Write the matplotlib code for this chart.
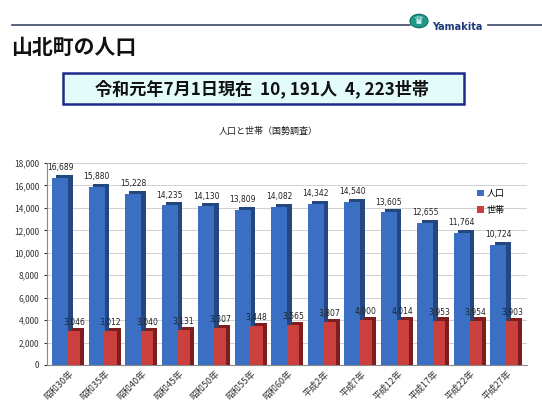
import numpy as np
import matplotlib
matplotlib.use("Agg")
import matplotlib.pyplot as plt
from matplotlib.patches import Rectangle, Circle
from matplotlib.lines import Line2D
from matplotlib.ticker import FuncFormatter

plt.rcParams['font.family'] = ['Noto Sans CJK JP', 'DejaVu Sans']

# データ（国勢調査）
years = ["昭和30年", "昭和35年", "昭和40年", "昭和45年", "昭和50年", "昭和55年",
         "昭和60年", "平成2年", "平成7年", "平成12年", "平成17年", "平成22年", "平成27年"]
population = [16689, 15880, 15228, 14235, 14130, 13809, 14082,
              14342, 14540, 13605, 12655, 11764, 10724]
households = [3046, 3012, 3040, 3131, 3307, 3448, 3565,
              3807, 4000, 4014, 3953, 3954, 3903]

W, H = 542, 407
fig = plt.figure(figsize=(W / 100, H / 100), dpi=100)
fig.patch.set_facecolor("white")

# ヘッダー部分
fig.add_artist(Line2D([12 / W, 410 / W], [1 - 25 / H, 1 - 25 / H], color="#3a4a6a", lw=1.2))
fig.add_artist(Line2D([488 / W, 1.0], [1 - 25 / H, 1 - 25 / H], color="#3a4a6a", lw=1.2))
fig.add_artist(Circle((419 / W, 1 - 21 / H), 9 / W, transform=fig.transFigure,
                      facecolor="#1f9a8a", edgecolor="#0d6b60", lw=0.8))
fig.text(419 / W, 1 - 21 / H, "♛", color="white", fontsize=8, ha="center", va="center",
         family=['DejaVu Sans'])
fig.text(432 / W, 1 - 27 / H, "Yamakita", color="#1d3a78", fontsize=7, fontweight="bold",
         ha="left", va="center", family=['DejaVu Sans'])
fig.text(11 / W, 1 - 47 / H, "山北町の人口", fontsize=15, fontweight="bold",
         ha="left", va="center", color="#111111")

# 現在人口の枠
fig.add_artist(Rectangle((63 / W, 1 - 104 / H), 401 / W, 31 / H, transform=fig.transFigure,
                         facecolor="#e3fbfb", edgecolor="#1c2a8c", lw=1.8))
fig.text(262 / W, 1 - 88.5 / H, "令和元年7月1日現在  10, 191人  4, 223世帯",
         fontsize=12.3, fontweight="bold", ha="center", va="center", color="#111111")

fig.text(268 / W, 1 - 131 / H, "人口と世帯（国勢調査）", fontsize=6.5,
         ha="center", va="center", color="#222222")

# グラフ本体
ax = fig.add_axes([47 / W, 1 - 365 / H, 480 / W, 202 / H])
x = np.arange(len(years))
dx, dy = 0.12, 280
bw_pop, bw_hh = 0.44, 0.33
xp = x - 0.19
xh = x + 0.19

# 奥行き（3D風）の影部分
ax.bar(xp + dx, np.array(population) + dy, width=bw_pop, bottom=0,
       color="#24477f", zorder=2)
ax.bar(xh + dx, np.array(households) + dy, width=bw_hh, bottom=0,
       color="#7e1d1d", zorder=4)
# 前面
ax.bar(xp, population, width=bw_pop, color="#3a6fc4", zorder=3, label="人口")
ax.bar(xh, households, width=bw_hh, color="#c9403d", zorder=5, label="世帯")

for xi, v in zip(xp, population):
    ax.text(xi, v + 500, f"{v:,}", fontsize=5.5, ha="center", va="bottom",
            color="#222222", zorder=6, family=['DejaVu Sans'])
for xi, v in zip(xh, households):
    ax.text(xi, v + 350, f"{v:,}", fontsize=5.5, ha="center", va="bottom",
            color="#222222", zorder=6, family=['DejaVu Sans'])

ax.set_xlim(-0.55, 12.6)
ax.set_ylim(0, 18000)
ax.set_yticks(np.arange(0, 18001, 2000))
ax.yaxis.set_major_formatter(FuncFormatter(lambda v, p: f"{int(v):,}"))
ax.tick_params(axis="y", labelsize=6, length=2, colors="#333333")
ax.set_xticks(x + 0.05)
ax.set_xticklabels(years, rotation=45, ha="right", rotation_mode="anchor",
                   fontsize=6.5, color="#333333")
ax.tick_params(axis="x", length=0, pad=3)
ax.grid(axis="y", color="#d0d0d0", lw=0.7, zorder=0)
for s in ["top", "right"]:
    ax.spines[s].set_visible(False)
ax.spines["left"].set_color("#888888")
ax.spines["bottom"].set_color("#888888")

ax.legend(loc="upper right", bbox_to_anchor=(0.97, 0.91), frameon=False,
          fontsize=6.5, handlelength=0.7, handleheight=0.7, handletextpad=0.3,
          labelspacing=0.8)

fig.savefig("out.png", dpi=100)
